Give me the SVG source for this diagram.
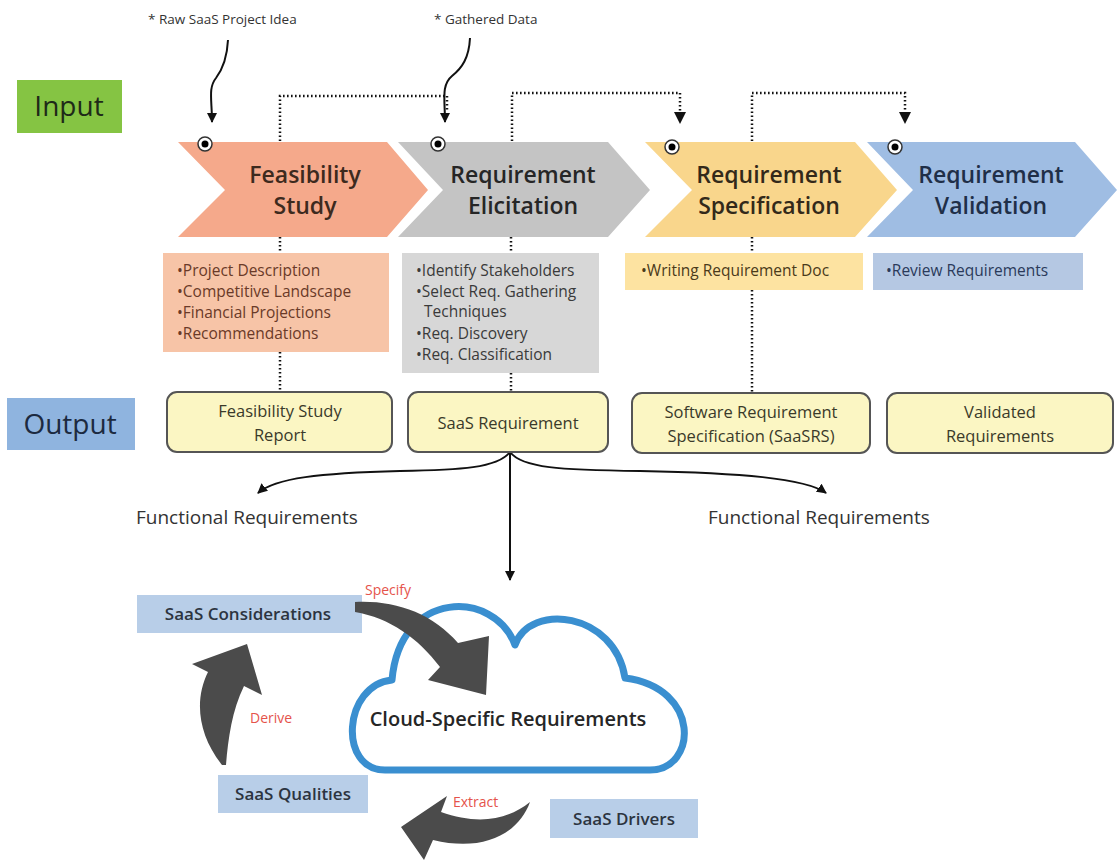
<svg xmlns="http://www.w3.org/2000/svg" width="1119" height="860" viewBox="0 0 1119 860">
<defs>
<style>
text{font-family:"Open Sans","Liberation Sans",sans-serif;}
.chev{font-size:23px;font-weight:600;text-anchor:middle;}
.bul{font-size:15.5px;}
.out{font-size:16.5px;fill:#3a3a2a;text-anchor:middle;}
.obox{fill:#fbf6c3;stroke:#555;stroke-width:2;}
.dot{fill:none;stroke:#111;stroke-width:2.5;stroke-dasharray:1.6 2.4;}
.solid{fill:none;stroke:#111;stroke-width:2;}
.big{fill:#4b4b4b;}
.red{fill:#e5534b;font-size:14px;}
.sbox{fill:#b8cee8;}
.stxt{font-size:17px;font-weight:600;fill:#2c3440;text-anchor:middle;}
.tgt{fill:#fff;stroke:#333;stroke-width:1.5;}
</style>
<marker id="ah" viewBox="0 0 10 10" refX="9" refY="5" markerWidth="10" markerHeight="10" markerUnits="userSpaceOnUse" orient="auto">
<path d="M0,0 L10,5 L0,10 Z" fill="#111"/>
</marker>
</defs>
<rect width="1119" height="860" fill="#fff"/>

<g id="label-input">
<rect x="17" y="80" width="105" height="53" fill="#85c443"/>
<text x="69" y="116" font-size="28" fill="#1e2a18" text-anchor="middle">Input</text>
</g>
<g id="label-output">
<rect x="7" y="398" width="128" height="52" fill="#8fb4df"/>
<text x="70" y="434" font-size="28" fill="#1c2a40" text-anchor="middle">Output</text>
</g>

<g id="top-inputs">
<text x="148" y="24" font-size="13.5" fill="#333">*  Raw SaaS Project Idea</text>
<text x="434" y="24" font-size="13.5" fill="#333">*  Gathered Data</text>
</g>

<g id="connectors">
<path class="solid" d="M228,40 C227,60 222,70 216,78 C208,88 212,100 212,122" marker-end="url(#ah)"/>
<path class="solid" d="M470,38 C469,58 462,68 452,76 C441,85 445,100 445,122" marker-end="url(#ah)"/>
<path class="dot" d="M280,141 V96 H447 V112"/>
<path class="dot" d="M512,141 V93 H680 V112"/>
<path class="dot" d="M752,141 V93 H905 V112"/>
<path d="M674,112 L686,112 L680,124 Z" fill="#111"/>
<path d="M899,112 L911,112 L905,124 Z" fill="#111"/>
<path class="dot" d="M280,237 V253"/>
<path class="dot" d="M280,352 V392"/>
<path class="dot" d="M511,237 V253"/>
<path class="dot" d="M511,373 V392"/>
<path class="dot" d="M752,237 V253"/>
<path class="dot" d="M752,290 V393"/>
<path class="solid" d="M510,452 C498,468 460,470 400,471 C320,473 275,478 258,493" marker-end="url(#ah)"/>
<path class="solid" d="M510,452 C522,468 560,470 640,471 C740,473 805,478 826,493" marker-end="url(#ah)"/>
<path class="solid" d="M510,452 V580" marker-end="url(#ah)"/>
</g>

<g id="chevron-feasibility">
<polygon points="178,142 387,142 428,190 387,237 178,237 225,190" fill="#f5a98b"/>
<circle class="tgt" cx="205" cy="144" r="7"/><circle cx="205" cy="144" r="3.5" fill="#000"/>
<text class="chev" x="305" y="183" fill="#3d2a1e">Feasibility</text>
<text class="chev" x="305" y="214" fill="#3d2a1e">Study</text>
</g>
<g id="chevron-elicitation">
<polygon points="398,142 608,142 650,190 608,237 398,237 443,190" fill="#c4c4c4"/>
<circle class="tgt" cx="438" cy="144" r="7"/><circle cx="438" cy="144" r="3.5" fill="#000"/>
<text class="chev" x="523" y="183" fill="#262626">Requirement</text>
<text class="chev" x="523" y="214" fill="#262626">Elicitation</text>
</g>
<g id="chevron-specification">
<polygon points="645,142 855,142 897,190 855,237 645,237 692,190" fill="#f9d68c"/>
<circle class="tgt" cx="672" cy="147" r="7"/><circle cx="672" cy="147" r="3.5" fill="#000"/>
<text class="chev" x="769" y="183" fill="#33291a">Requirement</text>
<text class="chev" x="769" y="214" fill="#33291a">Specification</text>
</g>
<g id="chevron-validation">
<polygon points="867,142 1075,142 1117,190 1075,237 867,237 913,190" fill="#9fbde3"/>
<circle class="tgt" cx="895" cy="147" r="7"/><circle cx="895" cy="147" r="3.5" fill="#000"/>
<text class="chev" x="991" y="183" fill="#1f2f48">Requirement</text>
<text class="chev" x="991" y="214" fill="#1f2f48">Validation</text>
</g>

<g id="tasks-feasibility">
<rect x="163" y="253" width="226" height="99" fill="#f7c4a7"/>
<text class="bul" fill="#6a3a28" x="177" y="276">•Project Description</text>
<text class="bul" fill="#6a3a28" x="177" y="297">•Competitive Landscape</text>
<text class="bul" fill="#6a3a28" x="177" y="318">•Financial Projections</text>
<text class="bul" fill="#6a3a28" x="177" y="339">•Recommendations</text>
</g>
<g id="tasks-elicitation">
<rect x="402" y="253" width="197" height="120" fill="#d7d7d7"/>
<text class="bul" fill="#3a3a3a" x="416" y="276">•Identify Stakeholders</text>
<text class="bul" fill="#3a3a3a" x="416" y="297">•Select Req. Gathering</text>
<text class="bul" fill="#3a3a3a" x="424" y="317">Techniques</text>
<text class="bul" fill="#3a3a3a" x="416" y="339">•Req. Discovery</text>
<text class="bul" fill="#3a3a3a" x="416" y="360">•Req.  Classification</text>
</g>
<g id="tasks-specification">
<rect x="625" y="253" width="238" height="37" fill="#fde3a1"/>
<text class="bul" fill="#4a3a1a" x="641" y="276">•Writing Requirement Doc</text>
</g>
<g id="tasks-validation">
<rect x="873" y="253" width="210" height="37" fill="#b5c8e3"/>
<text class="bul" fill="#2a3a5a" x="886" y="276">•Review Requirements</text>
</g>

<g id="out-feasibility">
<rect class="obox" x="167" y="392" width="225" height="60" rx="10"/>
<text class="out" x="280" y="417">Feasibility Study</text>
<text class="out" x="280" y="441">Report</text>
</g>
<g id="out-saas-requirement">
<rect class="obox" x="408" y="392" width="200" height="60" rx="10"/>
<text class="out" x="508" y="429">SaaS Requirement</text>
</g>
<g id="out-srs">
<rect class="obox" x="632" y="393" width="238" height="60" rx="10"/>
<text class="out" x="751" y="418">Software Requirement</text>
<text class="out" x="751" y="442">Specification (SaaSRS)</text>
</g>
<g id="out-validated">
<rect class="obox" x="887" y="393" width="226" height="60" rx="10"/>
<text class="out" x="1000" y="418">Validated</text>
<text class="out" x="1000" y="442">Requirements</text>
</g>

<g id="functional-left">
<text x="136" y="524" font-size="19" fill="#333">Functional Requirements</text>
</g>
<g id="functional-right">
<text x="708" y="524" font-size="19" fill="#333">Functional Requirements</text>
</g>

<g id="cloud">
<path d="M385,770 H650 C697,770 702,688 625,678 C615,612 530,602 515,645 C495,590 400,588 392,680 C343,685 338,770 385,770 Z" fill="#fff" stroke="#3a8fd0" stroke-width="7" stroke-linejoin="round"/>
<text x="508" y="726" font-size="20" font-weight="600" fill="#262626" text-anchor="middle">Cloud-Specific Requirements</text>
</g>

<g id="saas-considerations">
<rect class="sbox" x="137" y="595" width="225" height="38"/>
<text class="stxt" x="248" y="620">SaaS Considerations</text>
</g>
<g id="saas-qualities">
<rect class="sbox" x="218" y="775" width="150" height="38"/>
<text class="stxt" x="293" y="800">SaaS Qualities</text>
</g>
<g id="saas-drivers">
<rect class="sbox" x="550" y="799" width="148" height="39"/>
<text class="stxt" x="624" y="825">SaaS Drivers</text>
</g>

<g id="arrow-specify">
<path class="big" d="M355,602 C395,600 432,613 458,643 L489,636 L486,695 L428,680 L440,667 C418,638 390,618 355,612 Z"/>
<text class="red" x="365" y="595">Specify</text>
</g>
<g id="arrow-derive">
<path class="big" d="M222,765 C198,735 194,700 208,672 L192,664 L247,644 L262,695 L244,686 C232,710 228,740 226,765 Z"/>
<text class="red" x="250" y="723">Derive</text>
</g>
<g id="arrow-extract">
<path class="big" d="M530,802 C505,822 475,824 441,812 L447,796 L401,827 L424,860 L433,840 C482,852 518,835 530,802 Z"/>
<text class="red" x="453" y="807">Extract</text>
</g>
</svg>
